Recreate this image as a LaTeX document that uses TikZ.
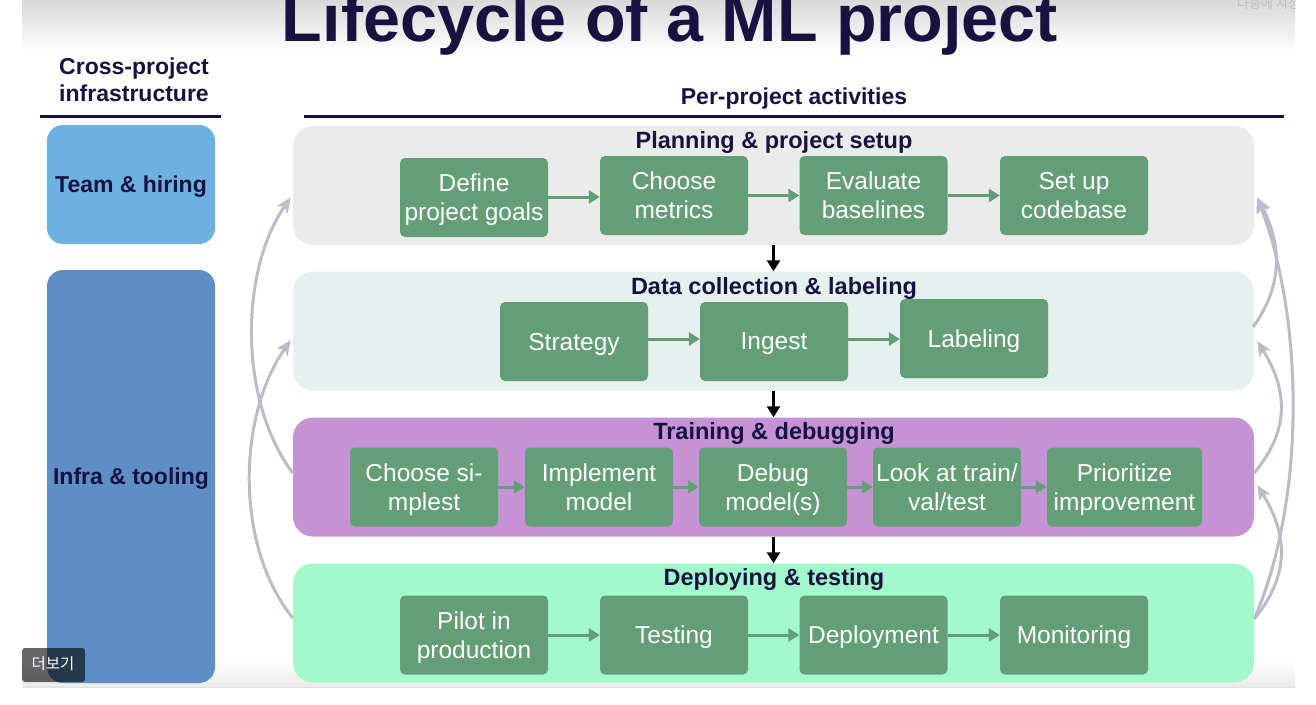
\documentclass[tikz,border=0pt]{standalone}
\usepackage{fontspec}
\setmainfont{Liberation Sans}
\newfontfamily\krfont{Noto Sans CJK KR}
\usetikzlibrary{arrows.meta,calc}
\definecolor{navy}{HTML}{17123F}
\definecolor{plancol}{HTML}{EBEBEB}
\definecolor{datacol}{HTML}{E6F0EE}
\definecolor{traincol}{HTML}{C692D6}
\definecolor{deploycol}{HTML}{A2F9CC}
\definecolor{boxgreen}{HTML}{639E76}
\definecolor{teamcol}{HTML}{6DB1E1}
\definecolor{infracol}{HTML}{5E8EC4}
\definecolor{arcgray}{HTML}{BFBAC8}
\begin{document}
\begin{tikzpicture}[x=1pt,y=-1pt,
  stagebox/.style={rounded corners=20pt, minimum width=961pt, minimum height=119pt, inner sep=0pt},
  stagetitle/.style={text=navy, font=\fontsize{23.5}{27}\selectfont\bfseries, inner sep=0pt, text depth=0pt},
  gbox/.style={fill=boxgreen, rounded corners=5pt, minimum width=148pt, minimum height=79pt, inner sep=0pt,
    text=white, align=center, font=\fontsize{24.5}{29}\selectfont, text depth=0pt},
  colbox/.style={rounded corners=16pt, minimum width=168pt, inner sep=0pt, text=navy,
    font=\fontsize{23}{27}\selectfont\bfseries},
  coltext/.style={text=navy, font=\fontsize{23}{27}\selectfont\bfseries, inner sep=0pt, text depth=0pt},
  header/.style={text=navy, align=center, font=\fontsize{23}{27}\selectfont\bfseries, inner sep=0pt, text depth=0pt},
  garrow/.style={draw=boxgreen, line width=3pt, -{Triangle[length=11pt,width=13pt]}},
  karrow/.style={draw=black, line width=2.5pt, -{Triangle[length=11pt,width=13pt]}},
  arcarrow/.style={draw=arcgray, line width=3pt, -{Stealth[length=15pt,width=13pt,inset=4pt]}},
  rule/.style={draw=navy, line width=3pt}
]
\useasboundingbox (0,0) rectangle (1316,704);
\fill[white] (0,0) rectangle (1316,704);
% slide background shading
\shade[top color=black!15, bottom color=white] (22,0) rectangle (1295,52);
\shade[top color=white, bottom color=black!8] (22,660) rectangle (1295,687);
\draw[black!12, line width=1pt] (22,687) -- (1295,687);

% title
\node[anchor=base, text=navy, font=\fontsize{66.5}{70}\selectfont\bfseries, inner sep=0pt] (title) at (670,41) {Lifecycle of a ML project};

% headers
\node[header] (crosshead) at (134,79.5) {Cross-project\\infrastructure};
\node[header] (perhead) at (794,96) {Per-project activities};
\draw[rule] (40,116) -- (221,116);
\draw[rule] (304,116) -- (1284,116);

% left column
\node[colbox, fill=teamcol, minimum height=119pt] (team) at (131,184.5) {};
\node[coltext] (teamt) at (team.center) {Team \& hiring};
\node[colbox, fill=infracol, minimum height=413pt] (infra) at (131,476.5) {};
\node[coltext] (infrat) at (infra.center) {Infra \& tooling};

% stages
\node[stagebox, fill=plancol] (plan) at (773.5,185.5) {};
\node[stagebox, fill=datacol] (data) at (773.5,331) {};
\node[stagebox, fill=traincol] (train) at (773.5,477) {};
\node[stagebox, fill=deploycol] (deploy) at (773.5,623) {};

\node[stagetitle] (plant) at (774,140) {Planning \& project setup};
\node[stagetitle] (datat) at (774,286) {Data collection \& labeling};
\node[stagetitle] (traint) at (774,431) {Training \& debugging};
\node[stagetitle] (deployt) at (774,577) {Deploying \& testing};

% planning row
\node[gbox] (define) at (474,197.5) {Define\\project goals};
\node[gbox] (metrics) at (674,195.5) {Choose\\metrics};
\node[gbox] (baselines) at (873.5,195.5) {Evaluate\\baselines};
\node[gbox] (codebase) at (1074,195.5) {Set up\\codebase};
% data row
\node[gbox] (strategy) at (574,341.5) {Strategy};
\node[gbox] (ingest) at (774,341.5) {Ingest};
\node[gbox] (labeling) at (974,338.5) {Labeling};
% training row
\node[gbox] (simplest) at (424,487) {Choose si-\\mplest};
\node[gbox] (implement) at (599,487) {Implement\\model};
\node[gbox] (debug) at (773,487) {Debug\\model(s)};
\node[gbox] (look) at (947,487) {Look at train/\\val/test};
\node[gbox, minimum width=155pt] (prior) at (1124.5,487) {Prioritize\\improvement};
% deploy row
\node[gbox] (pilot) at (474,635) {Pilot in\\production};
\node[gbox] (testing) at (674,635) {Testing};
\node[gbox] (deployment) at (873.5,635) {Deployment};
\node[gbox] (monitoring) at (1074,635) {Monitoring};

% green arrows
\draw[garrow] (define.east |- 0,197) -- (metrics.west |- 0,197);
\draw[garrow] (metrics.east) -- (baselines.west);
\draw[garrow] (baselines.east) -- (codebase.west);
\draw[garrow] (strategy.east |- 0,339) -- (ingest.west |- 0,339);
\draw[garrow] (ingest.east |- 0,339) -- (labeling.west |- 0,339);
\draw[garrow] (simplest.east) -- (implement.west);
\draw[garrow] (implement.east) -- (debug.west);
\draw[garrow] (debug.east) -- (look.west);
\draw[garrow] (look.east) -- (prior.west);
\draw[garrow] (pilot.east) -- (testing.west);
\draw[garrow] (testing.east) -- (deployment.west);
\draw[garrow] (deployment.east) -- (monitoring.west);

% black arrows between stages
\draw[karrow] (plan.south) -- (data.north);
\draw[karrow] (data.south) -- (train.north);
\draw[karrow] (train.south) -- (deploy.north);

% left feedback arcs
\draw[arcarrow] ($(train.west)+(0,-4)$) .. controls (238,400) and (240,270) .. ($(plan.west)+(-2,12)$);
\draw[arcarrow] ($(deploy.west)+(0,-5)$) .. controls (234,545) and (238,415) .. ($(data.west)+(-2,9)$);
% right feedback arcs
\draw[arcarrow] ($(data.east)+(-1,-4)$) .. controls (1283,285) and (1282,245) .. ($(plan.east)+(3,12)$);
\draw[arcarrow] ($(train.east)+(0,-4)$) .. controls (1290,430) and (1288,390) .. ($(data.east)+(3,10)$);
\draw[arcarrow] ($(deploy.east)+(0,-4)$) .. controls (1290,575) and (1288,535) .. ($(train.east)+(3,8)$);
\draw[arcarrow] ($(deploy.east)+(0,-4)$) .. controls (1306,500) and (1304,320) .. ($(plan.east)+(3,12)$);

% video overlay elements
\fill[black, opacity=0.6, rounded corners=3pt] (22,648) rectangle (85,682);
\node[text=white, font=\krfont\fontsize{15.5}{18}\selectfont, inner sep=0pt] (more) at (53,664) {더보기};
\begin{scope}
\clip (1200,0) rectangle (1295,14);
\node[text=black!25, font=\krfont\fontsize{13}{15}\selectfont, anchor=east, inner sep=0pt] (later) at (1300,4) {나중에 시청};
\end{scope}
\end{tikzpicture}
\end{document}
